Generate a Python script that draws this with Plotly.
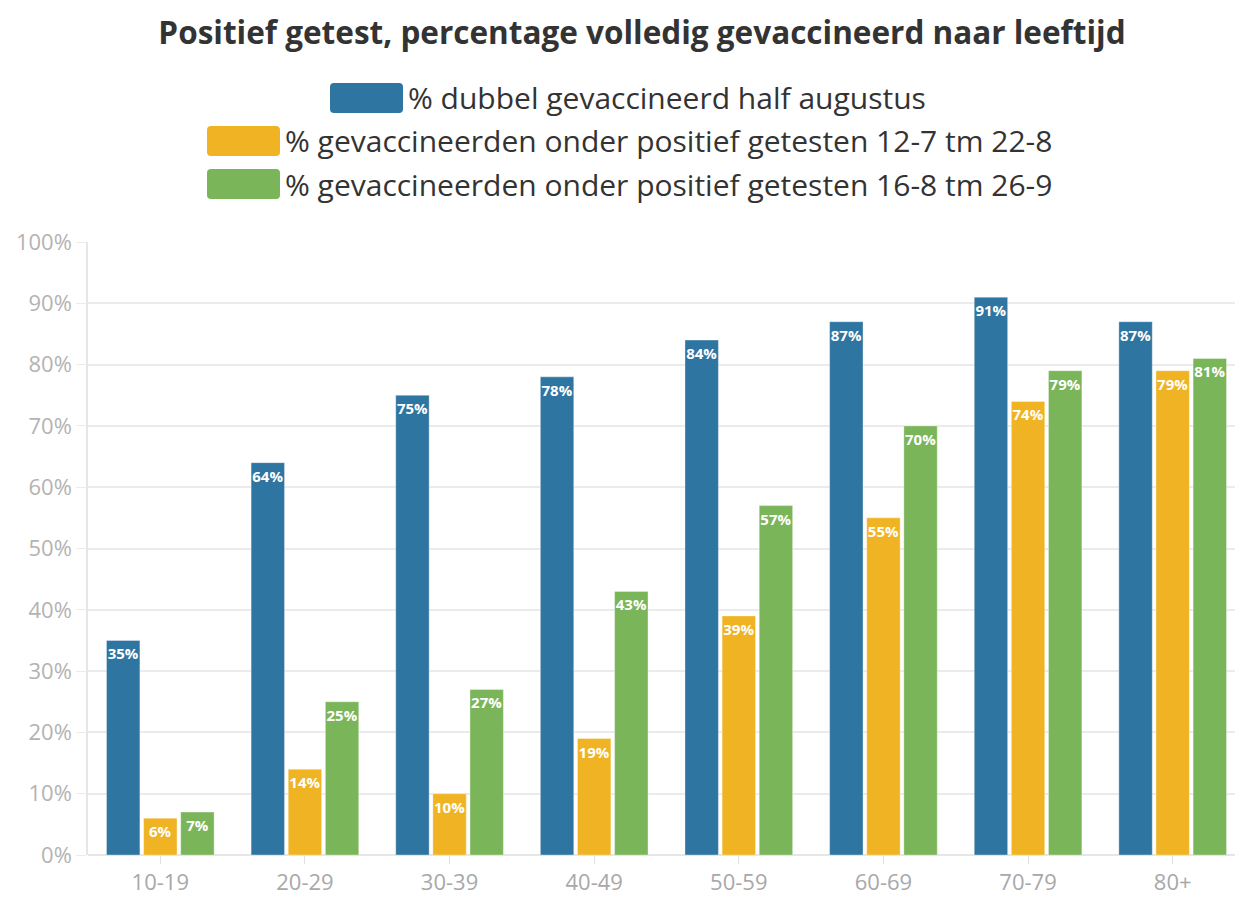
import plotly.graph_objects as go

categories = ["10-19", "20-29", "30-39", "40-49", "50-59", "60-69", "70-79", "80+"]
dubbel_half_aug = [35, 64, 75, 78, 84, 87, 91, 87]
pos_12_7_22_8 = [6, 14, 10, 19, 39, 55, 74, 79]
pos_16_8_26_9 = [7, 25, 27, 43, 57, 70, 79, 81]
series_names = [
    "% dubbel gevaccineerd half augustus",
    "% gevaccineerden onder positief getesten 12-7 tm 22-8",
    "% gevaccineerden onder positief getesten 16-8 tm 26-9",
]
colors = ["#2e75a1", "#f0b323", "#7bb55a"]
title_text = "Positief getest, percentage volledig gevaccineerd naar leeftijd"

W, H = 1243, 919
OFF = 8  # page body margin
L, R, T, B = 88 - OFF, 6, 242 - OFF, 72
FONT = "Open Sans"

fig = go.Figure()
for name, vals, col in zip(series_names, [dubbel_half_aug, pos_12_7_22_8, pos_16_8_26_9], colors):
    fig.add_trace(go.Bar(
        x=categories, y=vals, name=name,
        marker=dict(color=col, line=dict(color="rgba(255,255,255,0.35)", width=1)),
        text=[f"{v}%" for v in vals],
        textposition="inside", insidetextanchor="end",
        constraintext="none", textangle=0,
        textfont=dict(family=FONT, size=15, color="white", weight="bold"),
        showlegend=False,
    ))

# legend drawn as swatches + text (pixel positions on the page)
PW, PH = W - L - R, H - T - B

def px_x(x):
    return (x - OFF - L) / PW

def px_y(y):
    return 1 - (y - OFF - T) / PH

def rounded_rect(x0, y0, x1, y1, r):
    X = lambda v: px_x(v)
    Y = lambda v: px_y(v)
    return (f"M {X(x0 + r)},{Y(y0)} L {X(x1 - r)},{Y(y0)} Q {X(x1)},{Y(y0)} {X(x1)},{Y(y0 + r)} "
            f"L {X(x1)},{Y(y1 - r)} Q {X(x1)},{Y(y1)} {X(x1 - r)},{Y(y1)} "
            f"L {X(x0 + r)},{Y(y1)} Q {X(x0)},{Y(y1)} {X(x0)},{Y(y1 - r)} "
            f"L {X(x0)},{Y(y0 + r)} Q {X(x0)},{Y(y0)} {X(x0 + r)},{Y(y0)} Z")

legend_rows = [(330, 98), (207, 141), (207, 184)]
for (sx, cy), name, col in zip(legend_rows, series_names, colors):
    fig.add_shape(type="path", xref="paper", yref="paper",
                  path=rounded_rect(sx, cy - 15, sx + 73, cy + 15, 4),
                  fillcolor=col, line=dict(width=0), layer="above")
    fig.add_annotation(xref="paper", yref="paper", x=px_x(sx + 76), y=px_y(cy),
                       xanchor="left", yanchor="middle", showarrow=False,
                       text=name, font=dict(family=FONT, size=30, color="#333333"))

fig.update_layout(
    width=W, height=H,
    margin=dict(l=L, r=R, t=T, b=B, autoexpand=False),
    paper_bgcolor="white", plot_bgcolor="white",
    barmode="group", bargap=0.23, bargroupgap=0.1,
    title=dict(text=title_text, x=(642 - OFF) / W, xanchor="center", y=1 - (33 - OFF) / H,
               yanchor="middle", yref="container",
               font=dict(family=FONT, size=31.5, color="#333333", weight="bold")),
    font=dict(family=FONT),
)
fig.update_yaxes(range=[0, 100], dtick=10, ticksuffix="%", automargin=False,
                 showgrid=True, gridcolor="#ebebeb", gridwidth=1.5,
                 ticks="outside", ticklen=10, tickcolor="#ebebeb",
                 showline=True, linecolor="#e6e6e6", linewidth=1.5,
                 zeroline=True, zerolinecolor="#e6e6e6",
                 tickfont=dict(family=FONT, size=22, color="#b3b3b3"))
fig.update_xaxes(ticks="outside", ticklen=8, tickcolor="#e0e0e0",
                 showline=False, automargin=False,
                 tickfont=dict(family=FONT, size=22, color="#a8a8a8"))

fig.write_html("out.html")
